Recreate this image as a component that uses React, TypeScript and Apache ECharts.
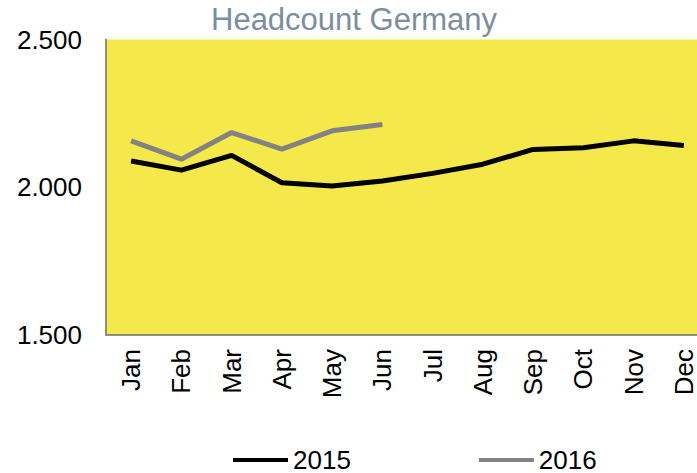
import React, { useEffect, useRef } from "react";
import * as echarts from "echarts";

const months = ["Jan", "Feb", "Mar", "Apr", "May", "Jun", "Jul", "Aug", "Sep", "Oct", "Nov", "Dec"];
const values2015 = [2089, 2058, 2108, 2015, 2004, 2021, 2047, 2078, 2128, 2134, 2157, 2141];
const values2016 = [2157, 2095, 2185, 2129, 2191, 2212];
const yTicks = { min: 1500, max: 2500, interval: 500 };

const FONT = "Liberation Sans, Arial, sans-serif";

export default function App() {
  const ref = useRef<HTMLDivElement>(null);
  useEffect(() => {
    if (!ref.current) return;
    const chart = echarts.init(ref.current, null, { renderer: "svg" });
    chart.setOption({
      animation: false,
      backgroundColor: "#ffffff",
      title: {
        text: "Headcount Germany",
        left: 206,
        top: -1,
        textStyle: { color: "#7b8ea0", fontSize: 31, fontWeight: "normal", fontFamily: FONT },
      },
      legend: {
        left: 233,
        top: 447,
        itemWidth: 55,
        itemHeight: 4,
        itemGap: 128,
        icon: "rect",
        padding: 0,
        textStyle: { fontSize: 26, lineHeight: 22, color: "#000", fontFamily: FONT },
        data: ["2015", "2016"],
      },
      grid: {
        left: 106,
        right: 0,
        top: 39.5,
        bottom: 138,
        show: true,
        backgroundColor: "#f5e84a",
        borderWidth: 0,
        containLabel: false,
      },
      xAxis: {
        type: "category",
        data: months,
        boundaryGap: true,
        axisLine: { show: true, lineStyle: { color: "#6e6e6e", width: 1.5 } },
        axisTick: { show: false },
        axisLabel: {
          rotate: 90,
          margin: 14,
          fontSize: 26,
          color: "#000",
          fontFamily: FONT,
          interval: 0,
        },
      },
      yAxis: {
        type: "value",
        min: yTicks.min,
        max: yTicks.max,
        interval: yTicks.interval,
        splitLine: { show: false },
        axisLine: { show: true, lineStyle: { color: "#6e6e6e", width: 1.5 } },
        axisTick: { show: false },
        axisLabel: {
          margin: 24,
          fontSize: 26,
          color: "#000",
          fontFamily: FONT,
          formatter: (v: number) => {
            const s = String(Math.round(v));
            return s.replace(/\B(?=(\d{3})+(?!\d))/g, ".");
          },
        },
      },
      series: [
        {
          name: "2015",
          type: "line",
          data: values2015,
          showSymbol: false,
          symbol: "none",
          itemStyle: { color: "#000000" },
          lineStyle: { color: "#000000", width: 5 },
        },
        {
          name: "2016",
          type: "line",
          data: values2016,
          showSymbol: false,
          symbol: "none",
          itemStyle: { color: "#828282" },
          lineStyle: { color: "#828282", width: 5 },
        },
      ],
    });
    return () => chart.dispose();
  }, []);
  return (
    <div style={{ width: 697, height: 473, position: "fixed", left: 0, top: 0, overflow: "hidden" }}>
      <div ref={ref} style={{ width: 709, height: 473 }} />
    </div>
  );
}
